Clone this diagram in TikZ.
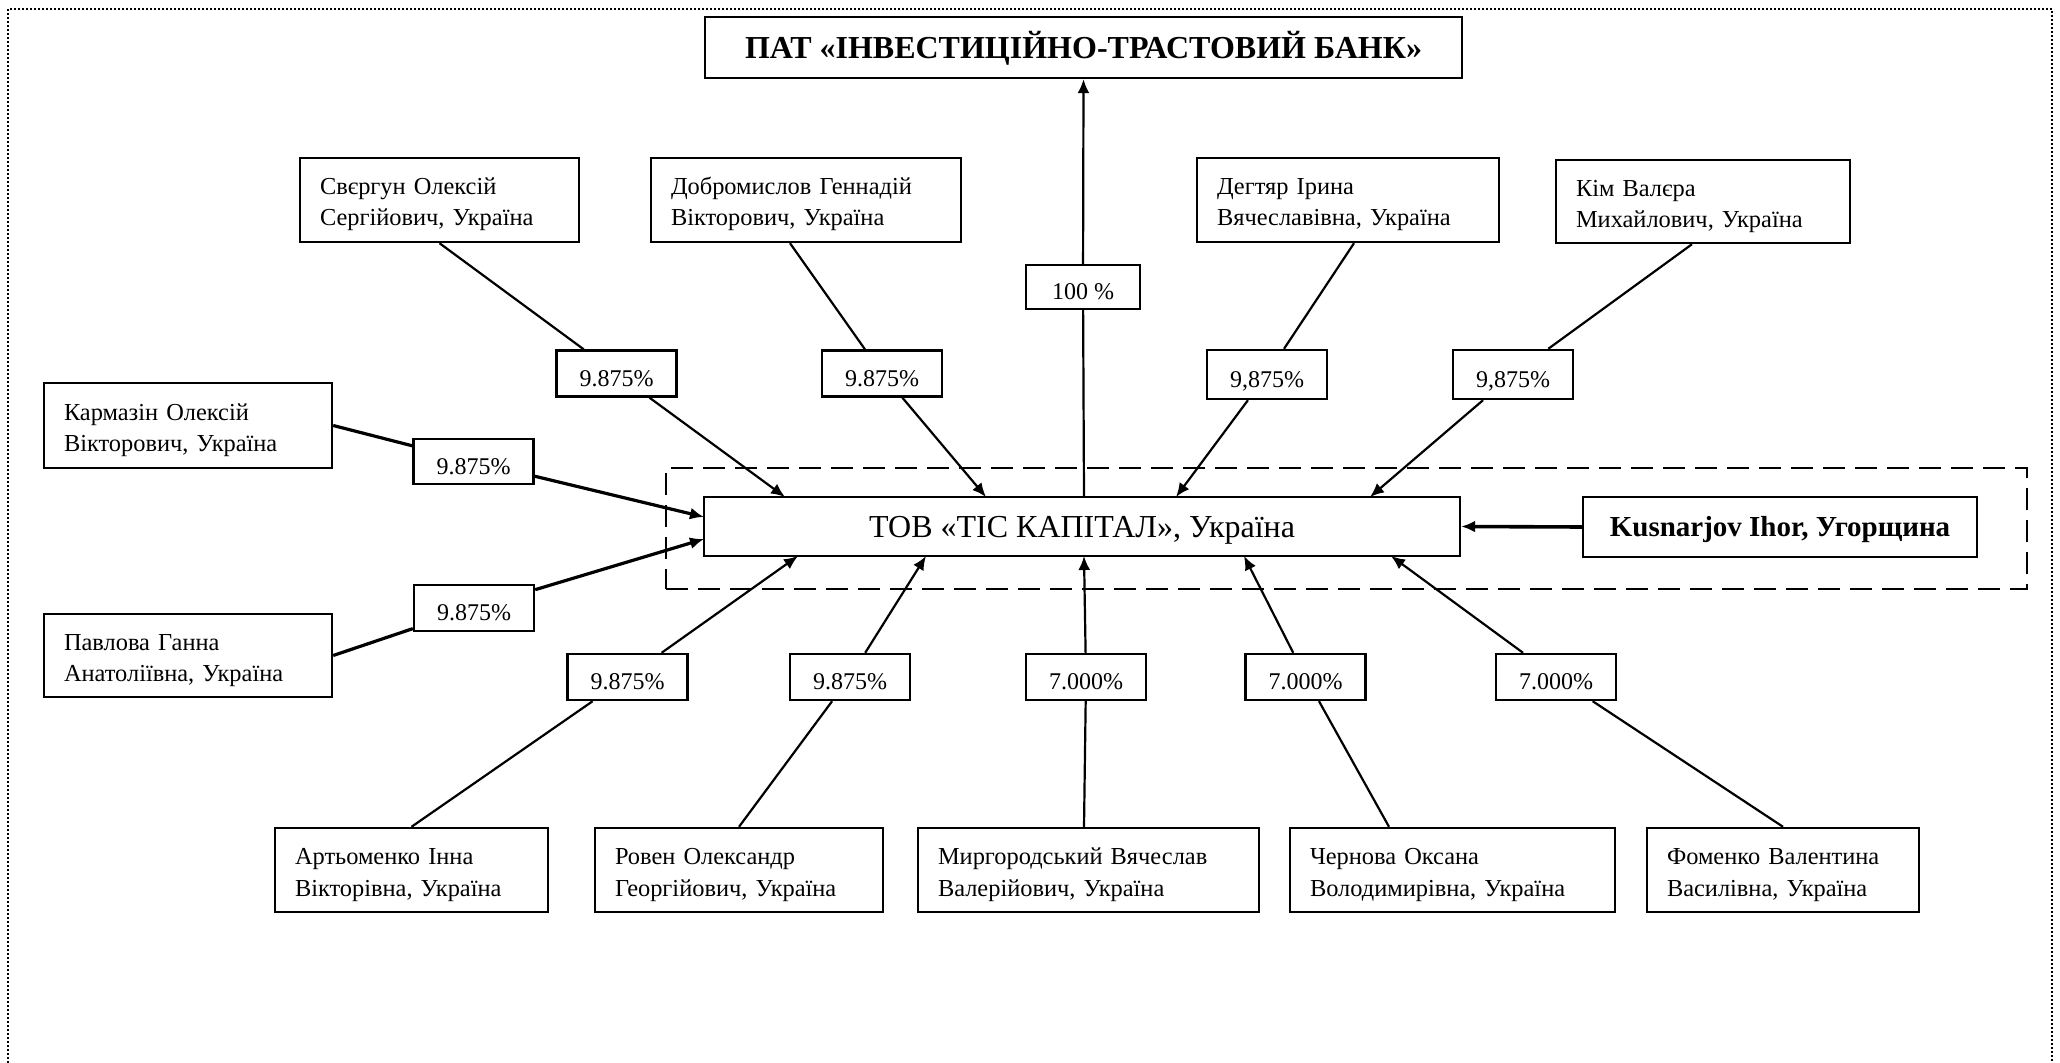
\documentclass[tikz,border=0pt]{standalone}
\usepackage{fontspec}
\setmainfont{Liberation Serif}
\usetikzlibrary{arrows.meta,calc}
\begin{document}
\frenchspacing
\begin{tikzpicture}[x=0.5pt,y=-0.5pt,
  box/.style={draw,line width=1.2pt,inner sep=0pt},
  person/.style={box,align=left,inner xsep=10pt,font=\fontsize{12.2}{15.6}\selectfont\frenchspacing},
  pct/.style={box,fill=white,minimum width=60pt,minimum height=23pt,text height=12.8pt,text depth=0pt,font=\fontsize{12}{14}\selectfont},
  link/.style={line width=1.1pt},
  arr/.style={line width=1.1pt,-{Latex[length=7pt,width=6pt]}},
  arrthick/.style={line width=1.6pt,-{Latex[length=7pt,width=6pt]}},
]
\useasboundingbox (0,0) rectangle (2060,1063);
% outer dotted frame
\draw[line width=0.6pt,dash pattern=on 0.8pt off 1.2pt] (8,1063) -- (8,9) -- (2052,9) -- (2052,1063);

% main nodes
\node[box,minimum width=378.5pt,minimum height=30.5pt,text height=10.6pt,text depth=0pt,font=\bfseries\fontsize{16}{19}\selectfont] (bank) at (1083.5,47.5) {ПАТ «ІНВЕСТИЦІЙНО-ТРАСТОВИЙ БАНК»};
\node[draw,line width=1.1pt,dash pattern=on 11pt off 5pt,minimum width=680.5pt,minimum height=60.5pt,inner sep=0pt] (grp) at (1346.5,528.5) {};
\node[box,fill=white,minimum width=378pt,minimum height=29.5pt,text height=10.6pt,text depth=0pt,font=\fontsize{16}{19}\selectfont\frenchspacing] (tis) at (1082,526.5) {ТОВ «ТІС КАПІТАЛ», Україна};
\node[box,fill=white,minimum width=197pt,minimum height=30pt,text height=9.6pt,text depth=0pt,font=\bfseries\fontsize{14.5}{17}\selectfont\frenchspacing] (kus) at (1780,527) {Kusnarjov Ihor, Угорщина};

% top persons
\node[person,text width=119.5pt,minimum height=42pt] (sv) at (439.5,200) {\rule{0pt}{13pt}\mbox{Свєргун Олексій}\\\mbox{Сергійович, Україна}};
\node[person,text width=135pt,minimum height=42pt] (dob) at (806,200) {\rule{0pt}{13pt}\mbox{Добромислов Геннадій}\\\mbox{Вікторович, Україна}};
\node[person,text width=131pt,minimum height=42pt] (deg) at (1348,200) {\rule{0pt}{13pt}\mbox{Дегтяр Ірина}\\\mbox{Вячеславівна, Україна}};
\node[person,text width=127pt,minimum height=41.5pt] (kim) at (1703,201.5) {\rule{0pt}{13pt}\mbox{Кім Валєра}\\\mbox{Михайлович, Україна}};
% left persons
\node[person,text width=124pt,minimum height=42.5pt] (kar) at (188,425.5) {\rule{0pt}{13pt}\mbox{Кармазін Олексій}\\\mbox{Вікторович, Україна}};
\node[person,text width=124pt,minimum height=41.5pt] (pav) at (188,655.5) {\rule{0pt}{13pt}\mbox{Павлова Ганна}\\\mbox{Анатоліївна, Україна}};
% bottom persons
\node[person,text width=116.5pt,minimum height=42pt] (art) at (411.5,870) {\rule{0pt}{13pt}\mbox{Артьоменко Інна}\\\mbox{Вікторівна, Україна}};
\node[person,text width=124pt,minimum height=42pt] (rov) at (739,870) {\rule{0pt}{13pt}\mbox{Ровен Олександр}\\\mbox{Георгійович, Україна}};
\node[person,text width=150.5pt,minimum height=42pt] (myr) at (1088.5,870) {\rule{0pt}{13pt}\mbox{Миргородський Вячеслав}\\\mbox{Валерійович, Україна}};
\node[person,text width=142.5pt,minimum height=42pt] (che) at (1452.5,870) {\rule{0pt}{13pt}\mbox{Чернова Оксана}\\\mbox{Володимирівна, Україна}};
\node[person,text width=116pt,minimum height=42pt] (fom) at (1783,870) {\rule{0pt}{13pt}\mbox{Фоменко Валентина}\\\mbox{Василівна, Україна}};

% percent boxes
\node[pct,minimum width=57pt,minimum height=22pt] (p100) at (1083,287) {100 \%};
\node[pct] (pSv) at (616.5,373.5) {9.875\%};
\node[pct] (pDob) at (882,373.5) {9.875\%};
\node[pct,minimum height=24.5pt] (pDeg) at (1267,374.5) {9,875\%};
\node[pct,minimum height=24.5pt] (pKim) at (1513,374.5) {9,875\%};
\node[pct,minimum height=22.5pt] (pKar) at (473.5,461.5) {9.875\%};
\node[pct] (pPav) at (474,608) {9.875\%};
\node[pct] (pArt) at (627.5,677) {9.875\%};
\node[pct] (pRov) at (850,677) {9.875\%};
\node[pct] (pMyr) at (1086,677) {7.000\%};
\node[pct] (pChe) at (1305.5,677) {7.000\%};
\node[pct] (pFom) at (1556,677) {7.000\%};

% attachment points on the TIS box
\coordinate (tA) at (785,497);
\coordinate (tB) at (986,497);
\coordinate (tC) at (1176,497);
\coordinate (tD) at (1370,497);
\coordinate (tTop) at (1084,497);
\coordinate (tK) at (704,517);
\coordinate (tP) at (704,539);
\coordinate (tE) at (798,556);
\coordinate (tF) at (926,556);
\coordinate (tG) at (1084,556);
\coordinate (tH) at (1244,556);
\coordinate (tI) at (1391,556);

% connectors
\draw[link] (tTop) -- (p100);
\draw[arr] (p100) -- (bank.south);

\draw[link] (sv.south) -- (pSv);
\draw[arr] (pSv) -- (tA);
\draw[link] ([xshift=-8pt]dob.south) -- (pDob);
\draw[arr] (pDob) -- (tB);
\draw[link] ([xshift=3pt]deg.south) -- (pDeg);
\draw[arr] (pDeg) -- (tC);
\draw[link] ([xshift=-5.5pt]kim.south) -- (pKim);
\draw[arr] (pKim) -- (tD);

\draw[link,line width=1.6pt] (kar.east) -- (pKar);
\draw[arrthick] (pKar) -- (tK);
\draw[link,line width=1.6pt] (pav.east) -- (pPav);
\draw[arrthick] (pPav) -- (tP);

\draw[link] (art.north) -- (pArt);
\draw[arr] (pArt) -- (tE);
\draw[link] (rov.north) -- (pRov);
\draw[arr] (pRov) -- (tF);
\draw[link] ([xshift=-2.25pt]myr.north) -- (pMyr);
\draw[arr] (pMyr) -- (tG);
\draw[link] ([xshift=-31.75pt]che.north) -- (pChe);
\draw[arr] (pChe) -- (tH);
\draw[link] (fom.north) -- (pFom);
\draw[arr] (pFom) -- (tI);

\draw[line width=1.8pt,-{Latex[length=7pt,width=6pt]}] (kus.west) -- (tis.east);
\end{tikzpicture}
\end{document}
